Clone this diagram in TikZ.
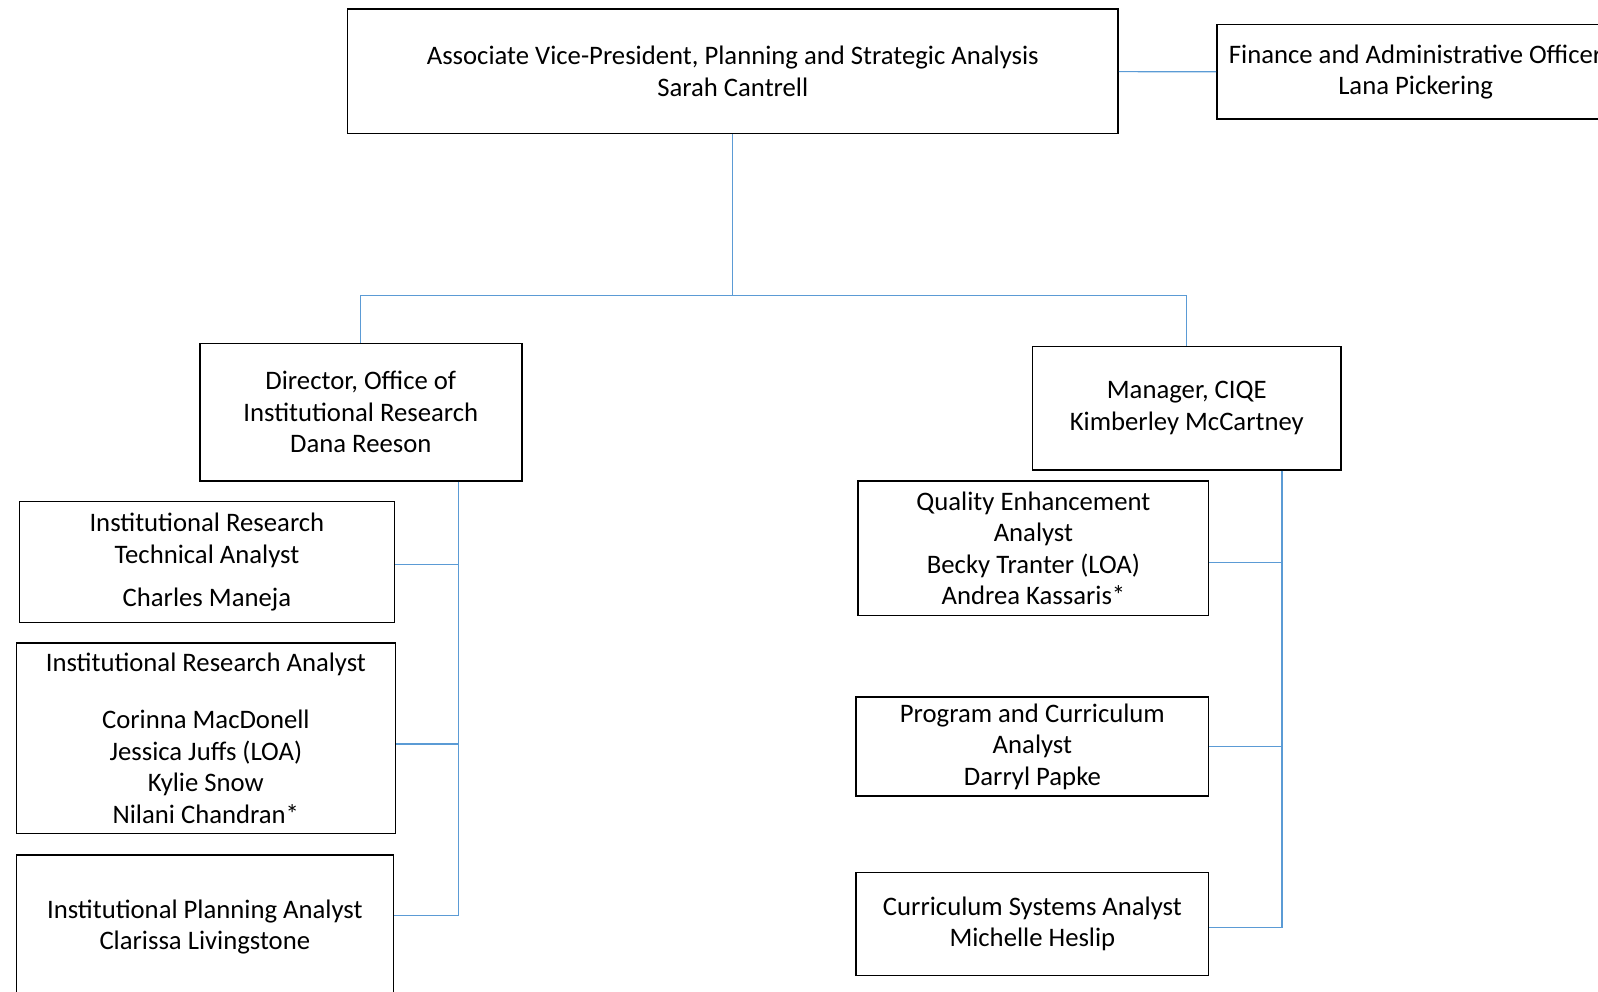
\documentclass[tikz,border=0pt]{standalone}
\usepackage{fontspec}
\setmainfont{Carlito}
\usepackage{tikz}
\usetikzlibrary{positioning}
\definecolor{linkblue}{RGB}{91,155,213}
\tikzset{
    %Define style for boxes
    unit/.style={
           rectangle,
           draw=black, line width=1.5pt,
           inner sep=0pt,
           align=center,
           font=\fontsize{26.2}{31}\selectfont,
           text centered},
    % Define connector style
    link/.style={
           draw=linkblue,
           line width=1.2pt}
}

\begin{document}
\begin{tikzpicture}[x=1pt,y=-1pt]
\useasboundingbox (0,0) rectangle (1568,973);
 %nodes
\node[unit, minimum width=756pt, minimum height=122pt](1) at (719,70)
  {Associate Vice-President, Planning and Strategic Analysis\\Sarah Cantrell};
\node[unit, minimum width=390pt, minimum height=93pt](2) at (1389,70.5)
  {Finance and Administrative Officer\\Lana Pickering};
\node[unit, minimum width=316pt, minimum height=135pt](3) at (354,404.5)
  {Director, Office of\\Institutional Research\\Dana Reeson};
\node[unit, minimum width=303pt, minimum height=121pt](4) at (1164.5,400.5)
  {Manager, CIQE\\Kimberley McCartney};
\node[unit, minimum width=368pt, minimum height=119pt](5) at (203,551.5)
  {Institutional Research\\Technical Analyst\\[11pt]Charles Maneja};
\node[unit, minimum width=372pt, minimum height=187pt](6) at (202,724.5)
  {Institutional Research Analyst\\[25pt]Corinna MacDonell\\Jessica Juffs (LOA)\\Kylie Snow\\Nilani Chandran*};
\node[unit, minimum width=370pt, minimum height=141pt](7) at (201,909.5)
  {Institutional Planning Analyst\\Clarissa Livingstone};
\node[unit, minimum width=344pt, minimum height=132pt](8) at (1014,538)
  {Quality Enhancement\\Analyst\\Becky Tranter (LOA)\\Andrea Kassaris*};
\node[unit, minimum width=346pt, minimum height=97pt](9) at (1013,732.5)
  {Program and Curriculum\\Analyst\\Darryl Papke};
\node[unit, minimum width=346pt, minimum height=101pt](10) at (1013,906.5)
  {Curriculum Systems Analyst\\Michelle Heslip};
 %connectors
\coordinate (b) at (719,290);
\coordinate (s1) at (450,898);
\coordinate (s2) at (1258,910);
\path[link]
   (1) edge (2)
   (1.south) edge (b);
\draw[link] (3.north) |- (b) -| (4.north);
\draw[link] (3.south -| s1) -- (s1) -- (s1 -| 7.east);
\draw[link] ([yshift=-2.5pt]5.east) -- ([yshift=-2.5pt]5.east -| s1);
\draw[link] ([yshift=-5.5pt]6.east) -- ([yshift=-5.5pt]6.east -| s1);
\draw[link] (4.south -| s2) -- (s2) -- (s2 -| 10.east);
\draw[link] ([yshift=-14pt]8.east) -- ([yshift=-14pt]8.east -| s2);
\draw[link] (9.east) -- (9.east -| s2);
\end{tikzpicture}
\end{document}
